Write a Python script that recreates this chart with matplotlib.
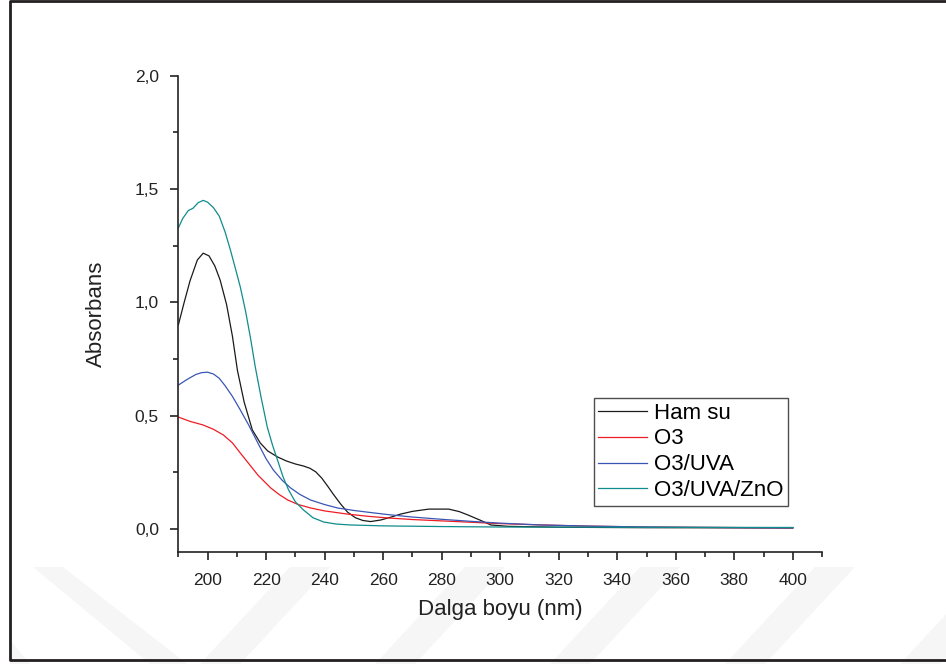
import matplotlib
matplotlib.use("Agg")
import matplotlib.pyplot as plt
from matplotlib.lines import Line2D
from matplotlib.patches import Polygon
from matplotlib.ticker import MultipleLocator, FuncFormatter

plt.rcParams['font.family'] = ['Liberation Sans', 'DejaVu Sans']

# UV-Vis absorbance spectra
wl_ham = [190, 192, 194, 196.5, 198.5, 200.5, 202.5, 204.3, 206.5, 208.5, 210.2, 212.5,
          215.3, 218, 220.5, 223.9, 227, 230, 232.8, 235, 237, 239, 241, 243, 245.5,
          247.8, 250.5, 253, 255.7, 259.2, 262.5, 266, 270, 275.6, 282.4, 286, 289,
          293, 296.8, 302.6, 320, 350, 400]
abs_ham = [0.90, 1.00, 1.095, 1.187, 1.217, 1.205, 1.16, 1.098, 0.99, 0.85, 0.70, 0.56,
           0.437, 0.38, 0.345, 0.318, 0.30, 0.287, 0.278, 0.268, 0.252, 0.225, 0.19, 0.153,
           0.11, 0.075, 0.05, 0.038, 0.033, 0.04, 0.052, 0.066, 0.078, 0.088, 0.088, 0.077,
           0.062, 0.04, 0.018, 0.012, 0.008, 0.006, 0.005]

wl_o3 = [190, 194, 198.5, 202, 205.4, 208.5, 211.2, 214, 217.2, 221.6, 224.5, 227.4,
         231, 235.2, 240, 247.8, 255, 261.5, 270, 280, 290, 300, 314, 330, 350, 400]
abs_o3 = [0.494, 0.475, 0.459, 0.44, 0.415, 0.38, 0.335, 0.29, 0.238, 0.181, 0.152, 0.128,
          0.108, 0.093, 0.08, 0.066, 0.056, 0.049, 0.042, 0.036, 0.03, 0.024, 0.018, 0.013,
          0.009, 0.005]

wl_uva = [190, 193, 196, 198, 200, 202, 204, 206, 208.5, 211.2, 214, 217.2, 220, 222.5,
          225.5, 228.4, 231.5, 235.2, 240, 244.4, 250, 255, 261.5, 270, 280, 290, 300,
          314, 330, 350, 370, 400]
abs_uva = [0.635, 0.66, 0.682, 0.69, 0.692, 0.684, 0.665, 0.632, 0.585, 0.525, 0.46, 0.379,
           0.31, 0.26, 0.215, 0.181, 0.153, 0.128, 0.108, 0.093, 0.082, 0.074, 0.064,
           0.053, 0.043, 0.034, 0.026, 0.018, 0.013, 0.009, 0.007, 0.005]

wl_zno = [190, 191.5, 193.4, 195, 196.8, 198.5, 200, 202, 204, 206, 207.8, 209.5, 211.2,
          213, 214.7, 216.3, 218.3, 220.4, 222.2, 223.9, 225.8, 227.7, 230, 232.8, 236,
          239.7, 244, 248.9, 260, 280, 300, 340, 400]
abs_zno = [1.328, 1.37, 1.405, 1.415, 1.44, 1.45, 1.442, 1.418, 1.38, 1.31, 1.231, 1.15,
           1.067, 0.96, 0.84, 0.715, 0.58, 0.45, 0.37, 0.304, 0.23, 0.172, 0.12, 0.084,
           0.05, 0.031, 0.022, 0.018, 0.014, 0.011, 0.009, 0.008, 0.007]

labels = ["Ham su", "O3", "O3/UVA", "O3/UVA/ZnO"]
colors = ["#1a1a1a", "#ee1c24", "#3a56b4", "#108c8c"]

fig = plt.figure(figsize=(9.46, 6.64), dpi=100)

# faint diagonal background bands
band_color = "#f6f6f6"
H = 664.0
W = 946.0
def fig_poly(pts):
    return Polygon([(x / W, 1 - y / H) for x, y in pts], closed=True,
                   transform=fig.transFigure, facecolor=band_color,
                   edgecolor="none", zorder=-10)
fig.patches.append(fig_poly([(33, 567), (63, 567), (187, 664), (150, 664)]))
for xb in [200, 375, 550, 725, 900]:
    fig.patches.append(fig_poly([(xb, 664), (xb + 40, 664), (xb + 130, 567), (xb + 90, 567)]))
fig.patches.append(fig_poly([(10, 640), (10, 664), (30, 664), (10, 640)]))

ax = fig.add_axes([0.1885, 0.1691, 0.869 - 0.1885, 0.886 - 0.1691])
ax.patch.set_alpha(0)
ax.set_zorder(1)

series = [(wl_ham, abs_ham), (wl_o3, abs_o3), (wl_uva, abs_uva), (wl_zno, abs_zno)]
for (x, y), lab, c in zip(series, labels, colors):
    ax.plot(x, y, color=c, lw=0.9, label=lab)

ax.set_xlim(190, 410)
ax.set_ylim(-0.1, 2.0)
ax.xaxis.set_major_locator(MultipleLocator(20))
ax.xaxis.set_minor_locator(MultipleLocator(10))
ax.yaxis.set_major_locator(MultipleLocator(0.5))
ax.yaxis.set_minor_locator(MultipleLocator(0.25))
ax.set_xticks([200, 220, 240, 260, 280, 300, 320, 340, 360, 380, 400])
ax.yaxis.set_major_formatter(FuncFormatter(lambda v, p: f"{v:.1f}".replace(".", ",")))

for s in ["top", "right"]:
    ax.spines[s].set_visible(False)
for s in ["left", "bottom"]:
    ax.spines[s].set_linewidth(1.2)
    ax.spines[s].set_color("#222222")
ax.tick_params(which="major", direction="out", length=6, width=1.2, labelsize=12.5,
               colors="#222222", pad=8)
ax.tick_params(which="minor", direction="out", length=3.5, width=1.2, colors="#222222")
ax.tick_params(axis="x", which="major", pad=9)

ax.set_xlabel("Dalga boyu (nm)", fontsize=16, labelpad=8, color="#222222")
ax.set_ylabel("Absorbans", fontsize=16, labelpad=20, color="#222222")

leg = ax.legend(loc="upper left", bbox_to_anchor=(0.6457, 0.3227), fontsize=16,
                frameon=True, fancybox=False, borderaxespad=0, borderpad=0.2,
                labelspacing=0.22, handlelength=2.2, handletextpad=0.3)
leg.get_frame().set_edgecolor("#222222")
leg.get_frame().set_linewidth(1.0)

# outer frame (left, top and bottom edges)
fl = 9.5 / W
ft = 1 - 1.2 / H
fb = 1 - 660 / H
fig.lines.append(Line2D([1, fl, fl, 1], [ft, ft, fb, fb], transform=fig.transFigure,
                        color="#231f20", lw=2.0, zorder=5))

fig.savefig("out.png", dpi=100)
